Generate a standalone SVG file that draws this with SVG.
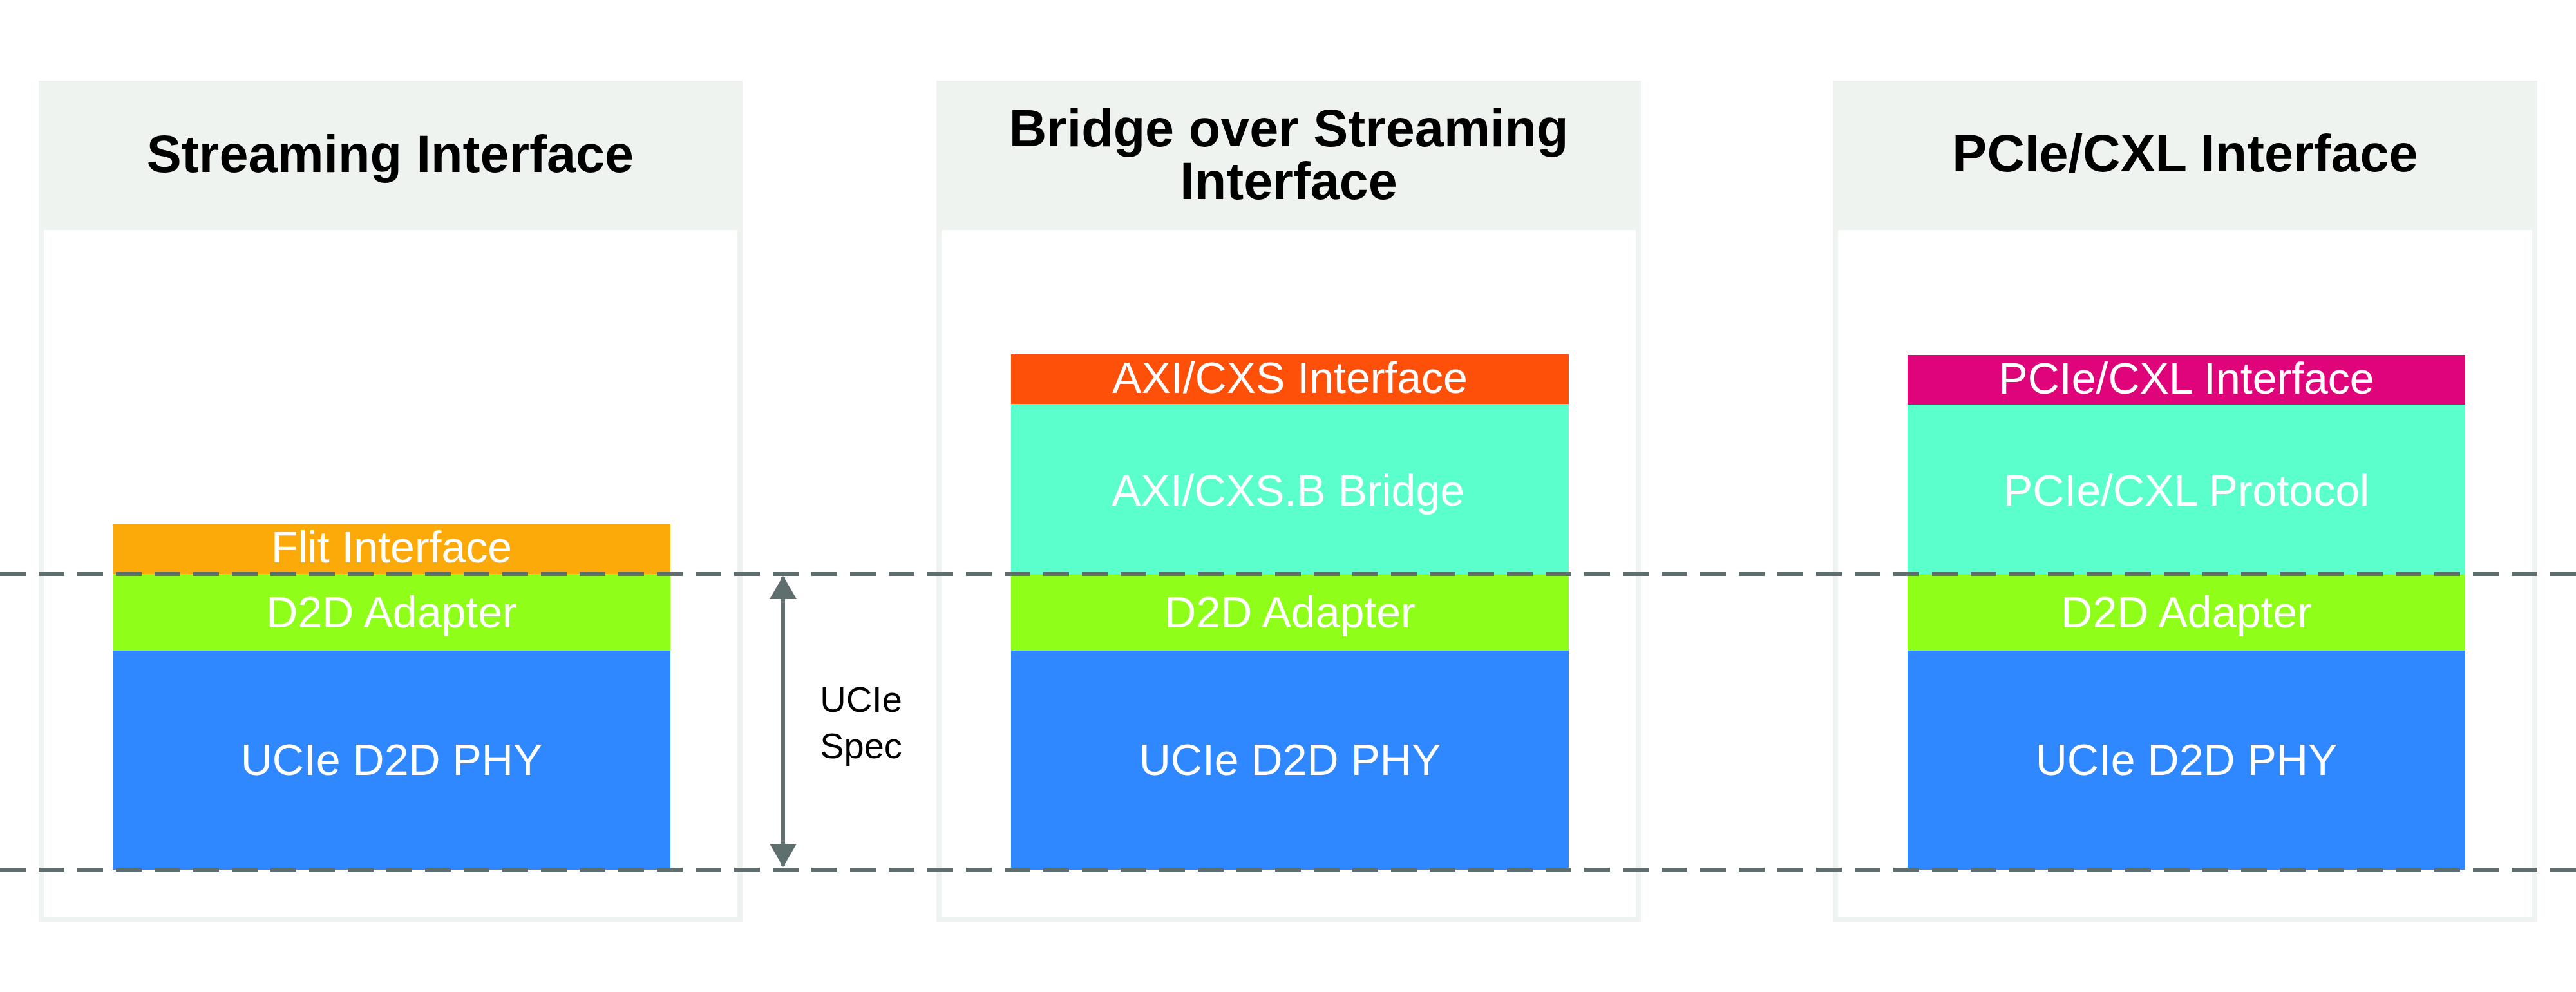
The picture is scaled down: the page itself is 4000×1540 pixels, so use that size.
<svg xmlns="http://www.w3.org/2000/svg" width="4000" height="1540" viewBox="0 0 4000 1540">
  <defs>
    <style>
      .panel { fill: #ffffff; stroke: #eef3ef; stroke-width: 8; }
      .header { fill: #eef3ef; }
      .title { font-family: "Liberation Sans", Arial, sans-serif; font-weight: bold; font-size: 81px; fill: #000000; text-anchor: middle; }
      .lbl { font-family: "Liberation Sans", Arial, sans-serif; font-size: 68px; fill: #ffffff; text-anchor: middle; dominant-baseline: central; }
      .spec { font-family: "Liberation Sans", Arial, sans-serif; font-size: 56px; fill: #000000; text-anchor: middle; }
      .flit { fill: #fcaa0a; }
      .adapter { fill: #8fff1a; }
      .phy { fill: #2f88ff; }
      .bridge { fill: #5bffcc; }
      .axi { fill: #ff500a; }
      .pcie { fill: #e0047a; }
      .dash { stroke: #5f6e6e; stroke-width: 6; stroke-dasharray: 40 20; fill: none; }
      .arrow { stroke: #5f6e6e; stroke-width: 6; fill: none; }
    </style>
    <marker id="ah" viewBox="0 0 36 42" refX="34" refY="21" markerWidth="36" markerHeight="42" markerUnits="userSpaceOnUse" orient="auto-start-reverse">
      <path d="M0,0 L36,21 L0,42 Z" fill="#5f6e6e"/>
    </marker>
  </defs>

  <rect width="4000" height="1540" fill="#ffffff"/>

  <g id="panel-streaming">
    <rect class="panel" x="64" y="129" width="1085" height="1299"/>
    <rect class="header" x="60" y="125" width="1093" height="232"/>
    <text class="title" x="606" y="267">Streaming Interface</text>
    <g id="s-flit">
      <rect class="flit" x="175" y="814" width="866" height="77"/>
      <text class="lbl" x="608" y="849">Flit Interface</text>
    </g>
    <g id="s-adapter">
      <rect class="adapter" x="175" y="891" width="866" height="119"/>
      <text class="lbl" x="608" y="950">D2D Adapter</text>
    </g>
    <g id="s-phy">
      <rect class="phy" x="175" y="1010" width="866" height="340"/>
      <text class="lbl" x="608" y="1179">UCIe D2D PHY</text>
    </g>
  </g>

  <g id="panel-bridge">
    <rect class="panel" x="1458" y="129" width="1086" height="1299"/>
    <rect class="header" x="1454" y="125" width="1094" height="232"/>
    <text class="title" x="2001" y="227">Bridge over Streaming</text>
    <text class="title" x="2001" y="309">Interface</text>
    <g id="b-axi">
      <rect class="axi" x="1570" y="550" width="866" height="77"/>
      <text class="lbl" x="2003" y="586">AXI/CXS Interface</text>
    </g>
    <g id="b-bridge">
      <rect class="bridge" x="1570" y="627" width="866" height="264"/>
      <text class="lbl" x="2000" y="761">AXI/CXS.B Bridge</text>
    </g>
    <g id="b-adapter">
      <rect class="adapter" x="1570" y="891" width="866" height="119"/>
      <text class="lbl" x="2003" y="950">D2D Adapter</text>
    </g>
    <g id="b-phy">
      <rect class="phy" x="1570" y="1010" width="866" height="340"/>
      <text class="lbl" x="2003" y="1179">UCIe D2D PHY</text>
    </g>
  </g>

  <g id="panel-pcie">
    <rect class="panel" x="2850" y="129" width="1086" height="1299"/>
    <rect class="header" x="2846" y="125" width="1094" height="232"/>
    <text class="title" x="3393" y="266">PCIe/CXL Interface</text>
    <g id="p-iface">
      <rect class="pcie" x="2962" y="551" width="866" height="77"/>
      <text class="lbl" x="3395" y="587">PCIe/CXL Interface</text>
    </g>
    <g id="p-protocol">
      <rect class="bridge" x="2962" y="628" width="866" height="263"/>
      <text class="lbl" x="3395" y="761">PCIe/CXL Protocol</text>
    </g>
    <g id="p-adapter">
      <rect class="adapter" x="2962" y="891" width="866" height="119"/>
      <text class="lbl" x="3395" y="950">D2D Adapter</text>
    </g>
    <g id="p-phy">
      <rect class="phy" x="2962" y="1010" width="866" height="340"/>
      <text class="lbl" x="3395" y="1179">UCIe D2D PHY</text>
    </g>
  </g>

  <g id="connectors">
    <line class="dash" x1="0" y1="891" x2="4000" y2="891"/>
    <line class="dash" x1="0" y1="1350" x2="4000" y2="1350"/>
    <line class="arrow" x1="1216" y1="896" x2="1216" y2="1344" marker-start="url(#ah)" marker-end="url(#ah)"/>
  </g>

  <g id="spec-label">
    <text class="spec" x="1337" y="1105">UCIe</text>
    <text class="spec" x="1337" y="1177">Spec</text>
  </g>
</svg>
